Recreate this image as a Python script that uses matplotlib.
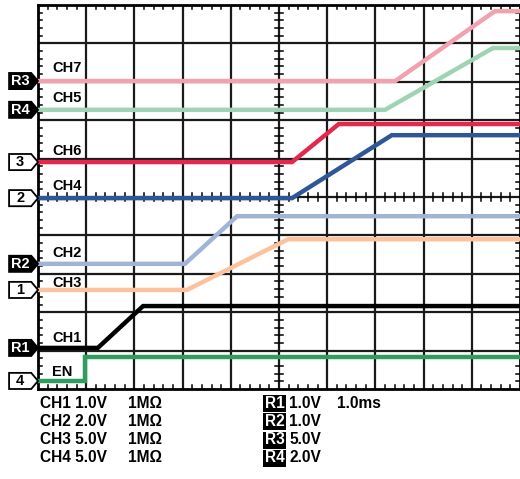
import matplotlib.pyplot as plt
from matplotlib.patches import Polygon, Rectangle

plt.rcParams['font.family'] = ['Liberation Sans', 'DejaVu Sans']

# ── trace data (x in ms / divisions, y in divisions) ──────────────────────────
ch7_x = [0, 7.41, 9.48, 10]
ch7_y = [8.02, 8.02, 9.84, 9.84]
ch5_x = [0, 7.2, 9.44, 10]
ch5_y = [7.27, 7.27, 8.88, 8.88]
ch6_x = [0, 5.27, 6.24, 10]
ch6_y = [5.91, 5.91, 6.9, 6.9]
ch4_x = [0, 5.27, 7.34, 10]
ch4_y = [4.97, 4.97, 6.61, 6.61]
ch2_x = [0, 3.05, 4.13, 10]
ch2_y = [3.26, 3.26, 4.5, 4.5]
ch3_x = [0, 3.09, 5.19, 10]
ch3_y = [2.58, 2.58, 3.9, 3.9]
ch1_x = [0, 1.24, 2.18, 10]
ch1_y = [1.07, 1.07, 2.16, 2.16]
en_x = [0, 0.98, 0.98, 10]
en_y = [0.21, 0.21, 0.83, 0.83]

trace_names = ['CH7', 'CH5', 'CH6', 'CH4', 'CH2', 'CH3', 'CH1', 'EN']
trace_colors = ['#F2A2AE', '#9ED4B4', '#E2294C', '#2F5697', '#A2B4D6',
                '#FDC19C', '#000000', '#2E9E5E']
label_y = [8.35, 7.57, 6.19, 5.28, 3.55, 2.77, 1.33, 0.44]

markers = ['R3', 'R4', '3', '2', 'R2', '1', 'R1', '4']
marker_y = [8.02, 7.27, 5.91, 4.97, 3.26, 2.58, 1.07, 0.21]

settings_left = ['CH1 1.0V', 'CH2 2.0V', 'CH3 5.0V', 'CH4 5.0V']
settings_imp = ['1M\u03a9', '1M\u03a9', '1M\u03a9', '1M\u03a9']
ref_tags = ['R1', 'R2', 'R3', 'R4']
ref_scale = ['1.0V', '1.0V', '5.0V', '2.0V']
time_base = '1.0ms'

FS = 10.5
FS_B = 11.2
W, H = 520, 479
fig = plt.figure(figsize=(W / 100, H / 100), dpi=100)
ax = fig.add_axes([38 / W, 1 - 389 / H, 482 / W, 384 / H])
ax.set_xlim(0, 10)
ax.set_ylim(0, 10)
ax.set_xticks([])
ax.set_yticks([])
for s in ax.spines.values():
    s.set_linewidth(2)
    s.set_color('black')

# grid
for i in range(1, 10):
    ax.axvline(i, color='#1a1a1a', lw=1.6, zorder=1)
    ax.axhline(i, color='#1a1a1a', lw=1.6, zorder=1)

# minor ticks on edges and centre lines
tx = 0.09
ty = 0.11
for k in range(51):
    v = k * 0.2
    if k % 5 == 0:
        continue
    ax.plot([v, v], [10, 10 - ty], color='black', lw=1.1, zorder=2)
    ax.plot([v, v], [0, ty], color='black', lw=1.1, zorder=2)
    ax.plot([v, v], [5 - ty, 5 + ty], color='black', lw=1.1, zorder=2)
    ax.plot([0, tx], [v, v], color='black', lw=1.1, zorder=2)
    ax.plot([10, 10 - tx], [v, v], color='black', lw=1.1, zorder=2)
    ax.plot([5 - tx, 5 + tx], [v, v], color='black', lw=1.1, zorder=2)

traces = [(ch7_x, ch7_y), (ch5_x, ch5_y), (ch6_x, ch6_y), (ch4_x, ch4_y),
          (ch2_x, ch2_y), (ch3_x, ch3_y), (ch1_x, ch1_y), (en_x, en_y)]
for (xs, ys), c in zip(traces, trace_colors):
    ax.plot(xs, ys, color=c, lw=3.2, solid_joinstyle='miter', zorder=3)

for name, ly in zip(trace_names, label_y):
    ax.text(0.3, ly, name, fontsize=FS, fontweight='bold', va='center',
            ha='left', zorder=4)

# channel / reference markers on the left
for m, my in zip(markers, marker_y):
    x0, x1, tip = -0.6, -0.14, 0.0
    h = 0.21
    pts = [(x0, my - h), (x1, my - h), (tip, my), (x1, my + h), (x0, my + h)]
    ref = m.startswith('R')
    poly = Polygon(pts, closed=True, facecolor='black' if ref else 'white',
                   edgecolor='black', lw=1.3, clip_on=False, zorder=5)
    ax.add_patch(poly)
    ax.text((x0 + x1) / 2, my, m, color='white' if ref else 'black',
            fontsize=FS, fontweight='bold', ha='center', va='center',
            clip_on=False, zorder=6)

# settings readout below the screen
rows = [403, 421, 440, 458]
for i, ry in enumerate(rows):
    fy = 1 - ry / H
    fig.text(40 / W, fy, settings_left[i], fontsize=FS_B, fontweight='bold', va='center')
    fig.text(128 / W, fy, settings_imp[i], fontsize=FS_B, fontweight='bold', va='center')
    fig.add_artist(Rectangle((263 / W, fy - 8.5 / H), 23 / W, 17 / H,
                             transform=fig.transFigure, facecolor='black',
                             edgecolor='none'))
    fig.text(274.5 / W, fy, ref_tags[i], fontsize=FS_B, fontweight='bold',
             color='white', va='center', ha='center')
    fig.text(289 / W, fy, ref_scale[i], fontsize=FS_B, fontweight='bold', va='center')
fig.text(337 / W, 1 - rows[0] / H, time_base, fontsize=FS_B, fontweight='bold', va='center')

fig.savefig('out.png', dpi=100)
